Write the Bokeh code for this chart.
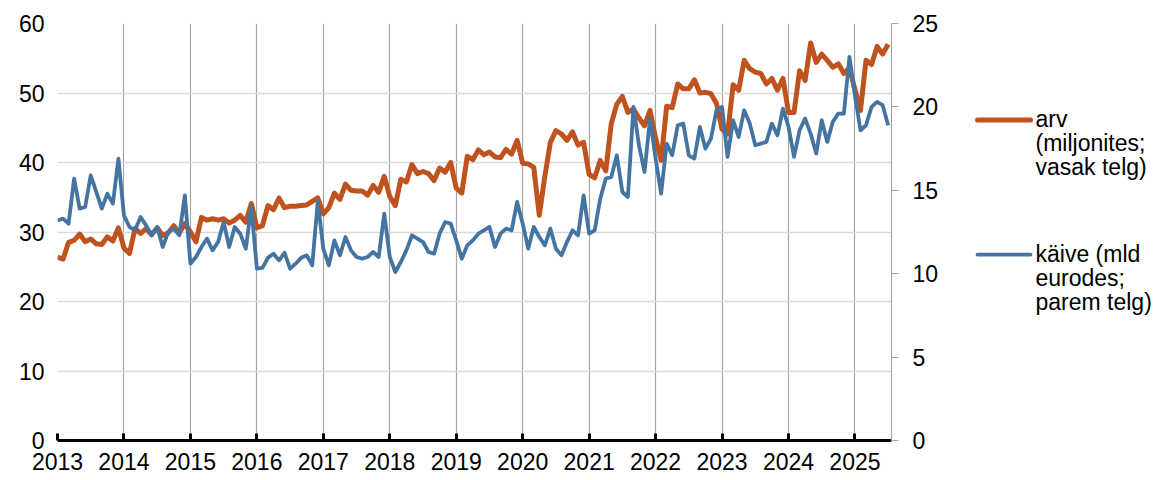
import numpy as np
from bokeh.plotting import figure
from bokeh.models import Range1d, LinearAxis, FixedTicker
from bokeh.layouts import row
from bokeh.embed import file_html
from bokeh.resources import INLINE
from bokeh.core.properties import value

# ---- data (monthly, Jan 2013 - Jul 2025) ----
years = list(range(2013, 2026))
left_ticks = [0, 10, 20, 30, 40, 50, 60]
right_ticks = [0, 5, 10, 15, 20, 25]

arv = [  # number of payments, millions (left axis)
    26.4, 26.1, 28.5, 28.8, 29.7, 28.6, 29.0, 28.3, 28.2, 29.3, 28.7, 30.6,
    27.7, 26.9, 30.5, 29.8, 30.5, 29.6, 30.6, 29.5, 29.9, 30.9, 29.9, 31.2,
    30.0, 28.6, 32.1, 31.7, 31.9, 31.7, 31.9, 31.3, 31.7, 32.4, 31.4, 34.1,
    30.6, 30.9, 33.8, 33.2, 34.9, 33.5, 33.7, 33.7, 33.8, 33.9, 34.4, 34.9,
    32.6, 33.5, 35.6, 34.7, 36.9, 36.0, 35.9, 35.9, 35.3, 36.7, 35.7, 38.0,
    35.1, 33.8, 37.6, 37.2, 39.7, 38.4, 38.7, 38.4, 37.4, 39.2, 38.6, 40.0,
    36.3, 35.6, 40.9, 40.4, 41.8, 41.1, 41.5, 40.8, 40.7, 41.9, 41.2, 43.2,
    39.9, 39.8, 39.3, 32.4, 38.0, 42.9, 44.6, 44.1, 43.2, 44.4, 42.5, 42.9,
    38.3, 37.8, 40.3, 38.8, 45.6, 48.4, 49.5, 47.2, 47.7, 46.4, 45.3, 47.5,
    43.5, 40.3, 48.1, 47.9, 51.3, 50.6, 50.6, 51.9, 50.0, 50.1, 49.9, 48.5,
    44.8, 44.1, 51.2, 50.4, 54.7, 53.5, 53.0, 52.8, 51.3, 52.1, 50.4, 52.1,
    47.2, 47.2, 53.2, 51.8, 57.2, 54.4, 55.6, 54.7, 53.7, 54.2, 52.8, 53.6,
    50.5, 47.5, 54.7, 54.1, 56.7, 55.6, 57.0,
]

kaive = [  # turnover, billion euros (right axis)
    13.2, 13.3, 13.0, 15.7, 13.9, 14.0, 15.9, 14.9, 13.9, 14.8, 14.2, 16.9,
    13.5, 12.8, 12.6, 13.4, 12.9, 12.3, 12.8, 11.6, 12.5, 12.7, 12.3, 14.7,
    10.6, 11.0, 11.6, 12.1, 11.4, 11.9, 13.1, 11.6, 12.8, 12.4, 11.5, 14.0,
    10.3, 10.35, 10.95, 11.2, 10.8, 11.25, 10.3, 10.6, 10.95, 11.1, 10.5, 14.35,
    11.5, 10.5, 12.0, 11.1, 12.2, 11.4, 11.0, 10.9, 11.0, 11.3, 11.0, 13.6,
    11.0, 10.1, 10.7, 11.4, 12.3, 12.1, 11.9, 11.3, 11.2, 12.4, 13.1, 13.0,
    12.0, 10.9, 11.7, 12.0, 12.4, 12.6, 12.8, 11.6, 12.4, 12.7, 12.6, 14.3,
    13.0, 11.5, 12.8, 12.2, 11.7, 12.7, 11.5, 11.1, 11.9, 12.6, 12.3, 14.7,
    12.4, 12.6, 14.5, 15.7, 15.8, 17.1, 14.9, 14.6, 20.0, 17.7, 16.1, 19.3,
    16.9, 14.8, 17.8, 17.1, 18.9, 19.0, 17.1, 16.9, 18.8, 17.5, 18.1, 19.8,
    20.0, 17.0, 19.2, 18.2, 19.8, 19.0, 17.7, 17.8, 17.9, 19.0, 18.3, 19.9,
    18.8, 17.0, 18.6, 19.3, 18.4, 17.2, 19.2, 17.9, 19.1, 19.6, 19.6, 23.0,
    20.7, 18.6, 18.9, 20.0, 20.3, 20.1, 18.9,
]

legend_labels = [
    ["arv", "(miljonites;", "vasak telg)"],
    ["käive (mld", "eurodes;", "parem telg)"],
]

# month positions as fractional years
month_x = [2013 + i / 12 for i in range(len(arv))]

FONT = "Liberation Sans"
FS = "23px"
ORANGE = "#C0521E"
BLUE = "#4474A1"

p = figure(width=953, height=480, output_backend="svg", toolbar_location=None,
           x_range=Range1d(2013, 2025.55), y_range=Range1d(0, 60),
           min_border_left=57, min_border_right=62, min_border_top=23,
           min_border_bottom=40)
p.extra_y_ranges = {"right": Range1d(0, 25)}
p.outline_line_color = None
p.background_fill_color = "white"

# grids
p.xgrid.ticker = FixedTicker(ticks=years)
p.xgrid.grid_line_color = "#A6A6A6"
p.xgrid.grid_line_width = 1.2
p.ygrid.ticker = FixedTicker(ticks=left_ticks)
p.ygrid.grid_line_color = "#D9D9D9"
p.ygrid.grid_line_width = 1.5

p.line(month_x, arv, line_color=ORANGE, line_width=5, line_join="round")
p.line(month_x, kaive, y_range_name="right", line_color=BLUE, line_width=3.8,
       line_join="round")

# bottom axis
xa = p.xaxis[0]
xa.ticker = FixedTicker(ticks=years)
xa.axis_line_color = "black"
xa.axis_line_width = 3
xa.major_tick_in = 7
xa.major_tick_out = 0
xa.major_tick_line_width = 3
xa.major_tick_line_color = "black"
xa.minor_tick_line_color = None
xa.major_label_standoff = 12
xa.major_label_text_font = FONT
xa.major_label_text_font_size = FS
xa.major_label_text_color = "black"

# left axis
ya = p.yaxis[0]
ya.ticker = FixedTicker(ticks=left_ticks)
ya.axis_line_color = None
ya.major_tick_line_color = None
ya.minor_tick_line_color = None
ya.major_label_standoff = 7
ya.major_label_text_font = FONT
ya.major_label_text_font_size = FS
ya.major_label_text_color = "black"

# right axis
ra = LinearAxis(y_range_name="right", ticker=FixedTicker(ticks=right_ticks))
ra.axis_line_color = "#A6A6A6"
ra.axis_line_width = 1.2
ra.major_tick_in = 0
ra.major_tick_out = 7
ra.major_tick_line_color = "#A6A6A6"
ra.major_tick_line_width = 1.2
ra.minor_tick_line_color = None
ra.major_label_standoff = 14
ra.major_label_text_font = FONT
ra.major_label_text_font_size = FS
ra.major_label_text_color = "black"
p.add_layout(ra, "right")

# legend panel
lg = figure(width=204, height=480, output_backend="svg", toolbar_location=None,
            x_range=Range1d(0, 204), y_range=Range1d(480, 0),
            x_axis_location=None, y_axis_location=None, min_border=0)
lg.grid.visible = False
lg.outline_line_color = None

entries = [(ORANGE, 5, 111), (BLUE, 3.8, 266)]
for (col, lw, yc), labels in zip(entries, legend_labels):
    lg.line([24, 77], [yc, yc], line_color=col, line_width=lw, line_cap="round")
    lg.text(x=[82] * len(labels), y=[yc - 1 + k * 27.8 for k in range(len(labels))],
            text=labels, text_font=value(FONT), text_font_size=FS,
            text_baseline="middle", text_align="left", text_color="black")

layout = row(p, lg)
open("out.html", "w").write(file_html(layout, INLINE))
